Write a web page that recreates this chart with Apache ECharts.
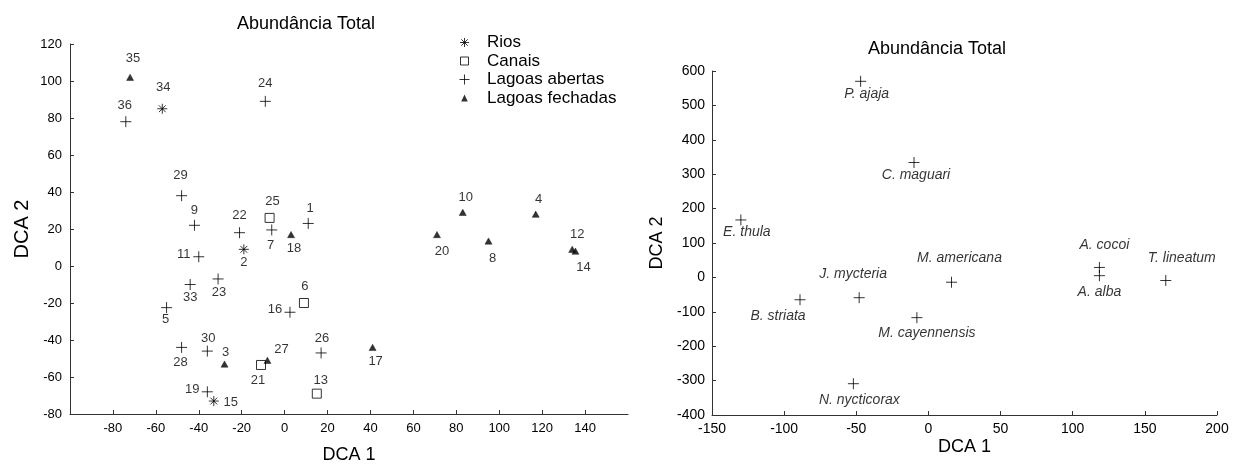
<!DOCTYPE html>
<html>
<head>
<meta charset="utf-8">
<script src="https://cdn.jsdelivr.net/npm/echarts@6/dist/echarts.min.js"></script>
<style>
html,body{margin:0;padding:0;background:#fff;}
#chart{width:1238px;height:464px;}
</style>
</head>
<body>
<div id="chart"></div>
<script>
// ---------- DATA (left: sites) ----------
const riosNames = ['34', '2', '15'];
const riosX = [-57, -19, -33];
const riosY = [85, 9, -73];

const canaisNames = ['25', '6', '21', '13'];
const canaisX = [-7, 9, -11, 15];
const canaisY = [26, -20, -53.5, -69];

const abertasNames = ['24', '36', '29', '9', '22', '7', '1', '11', '33', '23', '5', '16', '30', '28', '19', '26'];
const abertasX = [-9, -74, -48, -42, -21, -6, 11, -40, -44, -31, -55, 2.5, -36, -48, -36, 17];
const abertasY = [89, 78, 38, 22, 18, 19.5, 23, 5, -10, -7, -22.5, -25, -46, -44, -68, -47];

const fechadasNames = ['35', '18', '3', '27', '17', '20', '10', '8', '4', '12', '14'];
const fechadasX = [-72, 3, -28, -8, 41, 71, 83, 95, 117, 134, 135.5];
const fechadasY = [102, 17, -53, -51, -44, 17, 29, 13.5, 28, 9, 8];

// ---------- DATA (right: species) ----------
const speciesNames = ['P. ajaja', 'C. maguari', 'E. thula', 'B. striata', 'J. mycteria', 'M. cayennensis', 'N. nycticorax', 'M. americana', 'A. cocoi', 'A. alba', 'T. lineatum'];
const speciesX = [-47, -10, -130, -89, -48, -8, -52, 16, 118.5, 118.5, 164.5];
const speciesY = [570, 334, 167, -65, -59, -117, -309, -14, 29, 5, -9];

// ---------- STYLE (label placement offsets, px) ----------
const siteLabelOffset = {
  '35': [3, -19], '34': [1, -21], '36': [-1, -16], '24': [0, -18], '29': [-1, -20],
  '9': [0, -15], '22': [0, -17], '25': [3, -16], '7': [-1, 15], '18': [3, 14],
  '1': [2, -15], '2': [0, 13], '11': [-15, -2], '33': [0, 13], '23': [1, 13],
  '5': [-1, 12], '6': [1, -17], '16': [-15, -3], '30': [1, -13], '28': [-1, 15],
  '3': [1, -12], '27': [14, -11], '21': [-3, 15], '19': [-15, -2], '15': [17, 1],
  '26': [1, -15], '13': [4, -13], '17': [3, 14], '20': [5, 17], '8': [4, 17],
  '12': [5, -15], '14': [8, 16], '10': [3, -15], '4': [3, -15]
};
const speciesLabelOffset = {
  'P. ajaja': [6, 13], 'C. maguari': [2, 13], 'E. thula': [6, 12], 'B. striata': [-22, 16],
  'J. mycteria': [-6, -24], 'M. cayennensis': [10, 15], 'N. nycticorax': [6, 16],
  'M. americana': [8, -24], 'A. cocoi': [5, -22], 'A. alba': [0, 16], 'T. lineatum': [16, -22]
};

const FONT = 'Liberation Sans, Arial, sans-serif';
const SYM_PLUS = 'path://M5,0L5,10M0,5L10,5';
const SYM_AST = 'path://M5,0L5,10M0,5L10,5M1.6,1.6L8.4,8.4M1.6,8.4L8.4,1.6';
const SYM_SQ = 'path://M0,0L10,0L10,10L0,10Z';
const SYM_TRI = 'path://M5,0L10,9L0,9Z';
const LEG_AST = 'path://M0,0M10,10M5,0.5L5,9.5M0.5,5L9.5,5M1.8,1.8L8.2,8.2M1.8,8.2L8.2,1.8';
const LEG_SQ = 'path://M0,0M10,10M1,1L9,1L9,9L1,9Z';
const LEG_PLUS = 'path://M0,0M10,10M5,0L5,10M0,5L10,5';
const LEG_TRI = 'path://M0,0M10,10M5,1.5L8.3,8.5L1.7,8.5Z';

function buildData(names, xs, ys, offsets) {
  return names.map((n, i) => ({
    name: n,
    value: [xs[i], ys[i]],
    label: { offset: offsets[n] || [0, 0] }
  }));
}

function siteSeries(name, names, xs, ys, symbol, size, filled) {
  return {
    type: 'scatter',
    name: name,
    xAxisIndex: 0, yAxisIndex: 0,
    symbol: symbol,
    symbolSize: size,
    symbolKeepAspect: true,
    itemStyle: filled
      ? { color: '#000', borderColor: '#000', borderWidth: 0.5 }
      : { color: 'rgba(0,0,0,0)', borderColor: '#000', borderWidth: 1 },
    label: {
      show: true, position: 'inside', formatter: '{b}',
      color: '#000', fontSize: 13, fontFamily: FONT
    },
    emphasis: { disabled: true },
    data: buildData(names, xs, ys, siteLabelOffset)
  };
}

const strokeIcon = { color: 'rgba(0,0,0,0)', borderColor: '#000', borderWidth: 1 };
const fillIcon = { color: '#000', borderColor: '#000', borderWidth: 0 };

function axisLine() {
  return { show: true, onZero: false, lineStyle: { color: '#333', width: 1 } };
}

const option = {
  animation: false,
  backgroundColor: '#fff',
  title: [
    { text: 'Abundância Total', left: 306, top: 15, textAlign: 'center', padding: 0,
      textStyle: { fontSize: 18, fontWeight: 'normal', color: '#000', fontFamily: FONT } },
    { text: 'Abundância Total', left: 937, top: 40, textAlign: 'center', padding: 0,
      textStyle: { fontSize: 18, fontWeight: 'normal', color: '#000', fontFamily: FONT } }
  ],
  legend: {
    orient: 'vertical',
    left: 459, top: 34,
    padding: 0,
    itemWidth: 35, itemHeight: 10,
    itemGap: 1.5,
    symbolKeepAspect: true,
    textStyle: { fontSize: 17, color: '#000', fontFamily: FONT },
    data: [
      { name: 'Rios', icon: LEG_AST, itemStyle: strokeIcon },
      { name: 'Canais', icon: LEG_SQ, itemStyle: strokeIcon },
      { name: 'Lagoas abertas', icon: LEG_PLUS, itemStyle: strokeIcon },
      { name: 'Lagoas fechadas', icon: LEG_TRI, itemStyle: fillIcon }
    ],
    selectedMode: false
  },
  grid: [
    { left: 70, top: 44, width: 558, height: 370, outerBoundsMode: 'none', containLabel: false },
    { left: 712, top: 71, width: 505, height: 344, outerBoundsMode: 'none', containLabel: false }
  ],
  xAxis: [
    {
      gridIndex: 0, type: 'value', min: -100, max: 160, interval: 20,
      axisLine: axisLine(),
      axisTick: { show: true, inside: true, length: 4, lineStyle: { color: '#333' } },
      axisLabel: { showMinLabel: false, showMaxLabel: false, fontSize: 13, color: '#000', margin: 8, fontFamily: FONT },
      splitLine: { show: false },
      name: 'DCA 1', nameLocation: 'middle', nameGap: 32, nameMoveOverlap: false,
      nameTextStyle: { fontSize: 18, color: '#000', fontFamily: FONT }
    },
    {
      gridIndex: 1, type: 'value', min: -150, max: 200, interval: 50,
      axisLine: axisLine(),
      axisTick: { show: true, inside: true, length: 4, lineStyle: { color: '#333' } },
      axisLabel: { fontSize: 14, color: '#000', margin: 7, fontFamily: FONT },
      splitLine: { show: false },
      name: 'DCA 1', nameLocation: 'middle', nameGap: 23.5, nameMoveOverlap: false,
      nameTextStyle: { fontSize: 18, color: '#000', fontFamily: FONT }
    }
  ],
  yAxis: [
    {
      gridIndex: 0, type: 'value', min: -80, max: 120, interval: 20,
      axisLine: axisLine(),
      axisTick: { show: true, inside: true, length: 4, lineStyle: { color: '#333' } },
      axisLabel: { fontSize: 13, color: '#000', margin: 8, fontFamily: FONT },
      splitLine: { show: false },
      name: 'DCA 2', nameLocation: 'middle', nameGap: 38, nameMoveOverlap: false,
      nameTextStyle: { fontSize: 20, color: '#000', fontFamily: FONT }
    },
    {
      gridIndex: 1, type: 'value', min: -400, max: 600, interval: 100,
      axisLine: axisLine(),
      axisTick: { show: true, inside: true, length: 4, lineStyle: { color: '#333' } },
      axisLabel: { fontSize: 14, color: '#000', margin: 7, fontFamily: FONT },
      splitLine: { show: false },
      name: 'DCA 2', nameLocation: 'middle', nameGap: 46, nameMoveOverlap: false,
      nameTextStyle: { fontSize: 18, color: '#000', fontFamily: FONT }
    }
  ],
  series: [
    siteSeries('Rios', riosNames, riosX, riosY, SYM_AST, 10, false),
    siteSeries('Canais', canaisNames, canaisX, canaisY, SYM_SQ, 9, false),
    siteSeries('Lagoas abertas', abertasNames, abertasX, abertasY, SYM_PLUS, 11, false),
    siteSeries('Lagoas fechadas', fechadasNames, fechadasX, fechadasY, SYM_TRI, 7, true),
    {
      type: 'scatter',
      name: 'Espécies',
      xAxisIndex: 1, yAxisIndex: 1,
      symbol: SYM_PLUS,
      symbolSize: 11,
      symbolKeepAspect: true,
      itemStyle: { color: 'rgba(0,0,0,0)', borderColor: '#000', borderWidth: 1 },
      label: {
        show: true, position: 'inside', formatter: '{b}',
        color: '#000', fontSize: 14, fontStyle: 'italic', fontFamily: FONT
      },
      emphasis: { disabled: true },
      data: buildData(speciesNames, speciesX, speciesY, speciesLabelOffset)
    }
  ]
};

const chart = echarts.init(document.getElementById('chart'), null, { renderer: 'canvas' });
chart.setOption(option);
</script>
</body>
</html>
